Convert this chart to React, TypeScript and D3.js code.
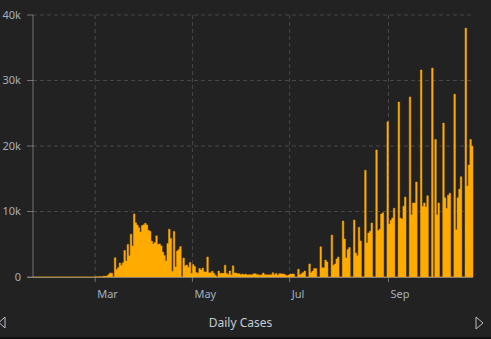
import React from 'react';
import * as d3 from 'd3';

// Daily cases, one array per month (Jan starts on the 22nd, Oct ends on the 23rd)
const jan = [0, 0, 0, 0, 0, 0, 0, 0, 0, 0];
const feb = [0, 0, 0, 0, 0, 0, 0, 0, 0, 0, 0, 0, 0, 0, 0, 0, 0, 0, 0, 0, 0, 0, 0, 0, 0, 0, 0, 0, 0];
const mar = [40, 40, 50, 60, 40, 140, 100, 170, 400, 620, 580, 0, 2950, 1160, 1410, 2140, 1810, 2160, 4050, 2450,
  4960, 3230, 6530, 4750, 9630, 8270, 7930, 7520, 6880, 7850, 7970];
const apr = [8200, 7950, 7130, 6970, 5480, 5030, 5270, 6280, 5000, 5050, 4750, 3800, 3270, 2440, 5100, 7300, 5890, 890,
  6950, 1540, 3970, 4210, 4640, 0, 2900, 1730, 1830, 1500, 2200, 560];
const may = [1900, 1600, 700, 560, 1300, 1070, 1370, 800, 760, 3050, 660, 660, 870, 560, 250, 0, 900, 560, 560, 560,
  1800, 560, 400, 900, 300, 1700, 600, 600, 500, 500, 350];
const jun = [450, 350, 450, 300, 350, 350, 350, 500, 500, 400, 350, 250, 350, 600, 350, 350, 350, 350, 350, 650,
  350, 550, 250, 500, 500, 450, 450, 300, 200, 300];
const jul = [450, 450, 450, 0, 0, 1200, 350, 500, 700, 900, 0, 0, 2000, 660, 900, 1300, 1300, 0, 0, 4600,
  1400, 1400, 2600, 2300, 0, 0, 6400, 1800, 2000, 2750, 3050];
const aug = [0, 0, 8550, 5800, 2900, 4200, 4500, 0, 0, 8700, 3650, 3250, 7600, 5500, 0, 0, 16300, 5200, 6700, 7000,
  8250, 0, 0, 19400, 7100, 7300, 9600, 9800, 0, 0, 23700];
const sep = [8100, 8650, 9000, 10500, 0, 0, 26700, 9000, 8850, 10800, 12200, 0, 0, 27500, 9500, 11300, 11300, 14500, 0, 0,
  31600, 10800, 11300, 10700, 12400, 0, 0, 31900, 0, 21000];
const oct = [9500, 11300, 0, 0, 23500, 12100, 10500, 12500, 12800, 0, 0, 27900, 7200, 12100, 13400, 15300, 0, 0, 38000, 13900,
  17100, 21000, 20000];

const dailyCases = [...jan, ...feb, ...mar, ...apr, ...may, ...jun, ...jul, ...aug, ...sep, ...oct];

const yTickValues = [0, 10000, 20000, 30000, 40000];
const yTickLabels = ['0', '10k', '20k', '30k', '40k'];
const xTickDates = [new Date(Date.UTC(2020, 2, 1)), new Date(Date.UTC(2020, 4, 1)), new Date(Date.UTC(2020, 6, 1)), new Date(Date.UTC(2020, 8, 1))];
const xTickLabels = ['Mar', 'May', 'Jul', 'Sep'];
const title = 'Daily Cases';

const W = 491;
const H = 339;
const startDate = new Date(Date.UTC(2020, 0, 22));
const endDate = new Date(Date.UTC(2020, 9, 24));

export default function App() {
  const x = d3.scaleUtc().domain([startDate, endDate]).range([33, 473]);
  const y = d3.scaleLinear().domain([0, 40000]).range([277, 15]);
  const points = dailyCases.map((v, i) => ({ date: d3.utcDay.offset(startDate, i), v }));
  points.push({ date: endDate, v: 0 });
  const [x0, x1] = x.range();
  const [yb, yt] = y.range();
  // columns drawn as one stepped shape so neighbouring days join without seams
  const columns = d3
    .area<{ date: Date; v: number }>()
    .x((d) => x(d.date))
    .y0(yb)
    .y1((d) => y(d.v))
    .curve(d3.curveStepAfter)(points) as string;
  const font = "'Noto Sans', 'Open Sans', sans-serif";
  return (
    <svg width={W} height={H} style={{ position: 'fixed', left: 0, top: 0, display: 'block' }}>
      <rect x={0} y={0} width={W} height={H} fill="#222222" />
      <rect x={0} y={337} width={W} height={2} fill="#111111" />
      {/* grid */}
      {yTickValues.slice(1).map((t) => (
        <line key={'gy' + t} x1={x0} x2={x1} y1={y(t)} y2={y(t)} stroke="#474747" strokeDasharray="4,3" />
      ))}
      {xTickDates.map((d, i) => (
        <line key={'gx' + i} x1={x(d)} x2={x(d)} y1={yt} y2={yb} stroke="#474747" strokeDasharray="4,3" />
      ))}
      {/* bars */}
      <path d={columns} fill="#ffab00" stroke="#ffab00" strokeWidth={0.45} strokeLinejoin="miter" />
      {/* axes */}
      <line x1={x0} x2={x0} y1={yt} y2={yb} stroke="#aaaaaa" strokeOpacity={0.6} />
      <line x1={27} x2={x1} y1={yb + 0.5} y2={yb + 0.5} stroke="#aaaaaa" strokeOpacity={0.6} />
      {yTickValues.map((t, i) => (
        <g key={'ty' + t}>
          <line x1={27} x2={x0} y1={y(t)} y2={y(t)} stroke="#aaaaaa" strokeOpacity={0.6} />
          <text x={21} y={y(t)} dy="0.35em" textAnchor="end" fontFamily={font} fontSize={11} fill="#a2b0be">
            {yTickLabels[i]}
          </text>
        </g>
      ))}
      {xTickDates.map((d, i) => (
        <g key={'tx' + i}>
          <line x1={x(d)} x2={x(d)} y1={yb} y2={yb + 5} stroke="#aaaaaa" strokeOpacity={0.6} />
          <text x={x(d) + 2} y={298} fontFamily={font} fontSize={11} fill="#a2b0be">
            {xTickLabels[i]}
          </text>
        </g>
      ))}
      {/* legend / title */}
      <text x={240.5} y={327} textAnchor="middle" fontFamily={font} fontSize={12} fill="#c3cdd7">
        {title}
      </text>
      <polygon points="5,317 -1,322.5 5,328" fill="none" stroke="#b8c0c8" strokeWidth={1} />
      <polygon points="476,317 483,323 476,329" fill="none" stroke="#b8c0c8" strokeWidth={1} />
    </svg>
  );
}
